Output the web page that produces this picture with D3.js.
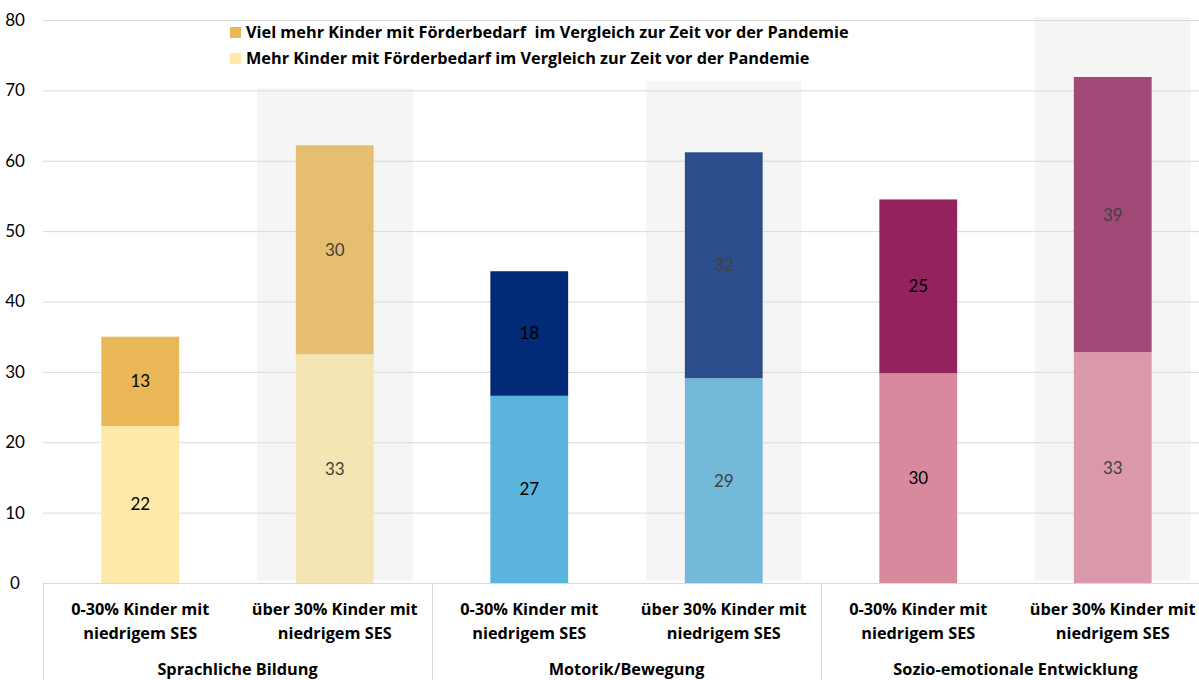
<!DOCTYPE html>
<html>
<head>
<meta charset="utf-8">
<script src="https://cdn.jsdelivr.net/npm/d3@7"></script>
<style>
  body { margin: 0; background: #fff; }
  svg { display: block; font-family: Lato, "Open Sans", sans-serif; }
  .bold { font-family: "Open Sans", Lato, sans-serif; font-weight: bold; }
</style>
</head>
<body>
<div id="chart"></div>
<script>
const groups = ["Sprachliche Bildung", "Motorik/Bewegung", "Sozio-emotionale Entwicklung"]
const subLabels = [["0-30% Kinder mit", "niedrigem SES"], ["über 30% Kinder mit", "niedrigem SES"]]
const mehr = [22.3, 32.5, 26.6, 29.1, 29.8, 32.8]
const vielMehr = [12.7, 29.7, 17.7, 32.1, 24.7, 39.1]
const mehrColors = ["#FEE9A8", "#F5E5B2", "#5BB4DB", "#72B9DA", "#D8899D", "#D999AA"]
const vielColors = ["#EAB758", "#E6BE70", "#022A76", "#2C4D8B", "#93225F", "#A24876"]
const shadeTop = [70.3, 71.3, 80.4]
const yTicks = [0, 10, 20, 30, 40, 50, 60, 70, 80]
const legendLabels = [
  "Viel mehr Kinder mit Förderbedarf  im Vergleich zur Zeit vor der Pandemie",
  "Mehr Kinder mit Förderbedarf im Vergleich zur Zeit vor der Pandemie"
]

const W = 1199, H = 680
const plot = { left: 43, right: 1210, top: 20, bottom: 583 }

const svg = d3.select("#chart").append("svg")
  .attr("width", W).attr("height", H)

const cats = d3.range(6)
const x = d3.scaleBand().domain(cats).range([plot.left, plot.right])
const y = d3.scaleLinear().domain([0, 80]).range([plot.bottom, plot.top])
const barW = x.bandwidth() * 0.4
const shadeW = x.bandwidth() * 0.8

// shading behind the "über 30%" bars
svg.append("g").selectAll("rect")
  .data(shadeTop)
  .join("rect")
  .attr("x", (d, i) => x(i * 2 + 1) + (x.bandwidth() - shadeW) / 2)
  .attr("y", d => y(d))
  .attr("width", shadeW)
  .attr("height", d => y(0.4) - y(d))
  .attr("fill", "#F5F5F5")

// gridlines + y axis labels
svg.append("g").selectAll("line")
  .data(yTicks.slice(1))
  .join("line")
  .attr("x1", plot.left).attr("x2", W)
  .attr("y1", d => y(d) + 0.5).attr("y2", d => y(d) + 0.5)
  .attr("stroke", "#D9D9D9").attr("stroke-width", 1)

svg.append("g").selectAll("text")
  .data(yTicks)
  .join("text")
  .attr("x", 15).attr("y", d => y(d))
  .attr("dy", "0.35em")
  .attr("text-anchor", "middle")
  .attr("font-size", 17)
  .attr("fill", "#000")
  .text(d => d)

// stacked bars
const bars = svg.append("g")
bars.selectAll("rect.mehr")
  .data(mehr)
  .join("rect")
  .attr("class", "mehr")
  .attr("x", (d, i) => x(i) + (x.bandwidth() - barW) / 2)
  .attr("y", d => y(d))
  .attr("width", barW)
  .attr("height", d => y(0) - y(d))
  .attr("fill", (d, i) => mehrColors[i])

bars.selectAll("rect.viel")
  .data(vielMehr)
  .join("rect")
  .attr("class", "viel")
  .attr("x", (d, i) => x(i) + (x.bandwidth() - barW) / 2)
  .attr("y", (d, i) => y(mehr[i] + d))
  .attr("width", barW)
  .attr("height", d => y(0) - y(d))
  .attr("fill", (d, i) => vielColors[i])

// value labels
const labelColor = i => i % 2 ? "#404040" : "#000"
bars.selectAll("text.mehr")
  .data(mehr)
  .join("text")
  .attr("class", "mehr")
  .attr("x", (d, i) => x(i) + x.bandwidth() / 2)
  .attr("y", d => y(d / 2))
  .attr("dy", "0.35em")
  .attr("text-anchor", "middle")
  .attr("font-size", 17)
  .attr("fill", (d, i) => labelColor(i))
  .text(d => Math.round(d))

bars.selectAll("text.viel")
  .data(vielMehr)
  .join("text")
  .attr("class", "viel")
  .attr("x", (d, i) => x(i) + x.bandwidth() / 2)
  .attr("y", (d, i) => y(mehr[i] + d / 2))
  .attr("dy", "0.35em")
  .attr("text-anchor", "middle")
  .attr("font-size", 17)
  .attr("fill", (d, i) => labelColor(i))
  .text(d => Math.round(d))

// x axis line and group separators
svg.append("line")
  .attr("x1", plot.left).attr("x2", W)
  .attr("y1", plot.bottom + 0.5).attr("y2", plot.bottom + 0.5)
  .attr("stroke", "#D9D9D9")

svg.append("g").selectAll("line")
  .data([0, 2, 4])
  .join("line")
  .attr("x1", d => Math.round(x(d)) + 0.5).attr("x2", d => Math.round(x(d)) + 0.5)
  .attr("y1", plot.bottom).attr("y2", H)
  .attr("stroke", "#D9D9D9")

// category labels
const catLabels = svg.append("g")
  .attr("class", "bold")
  .attr("font-size", 16.3).attr("text-anchor", "middle")
cats.forEach(i => {
  subLabels[i % 2].forEach((t, k) => {
    catLabels.append("text")
      .attr("x", x(i) + x.bandwidth() / 2)
      .attr("y", 609 + k * 24)
      .attr("dy", "0.35em")
      .text(t)
  })
})
catLabels.selectAll("text.group")
  .data(groups)
  .join("text")
  .attr("class", "group")
  .attr("x", (d, i) => x(i * 2 + 1))
  .attr("y", 669)
  .attr("dy", "0.35em")
  .text(d => d)

// legend
const legend = svg.append("g")
legendLabels.forEach((t, i) => {
  const ly = 32 + i * 26
  legend.append("rect")
    .attr("x", 230).attr("y", ly - 5)
    .attr("width", 11).attr("height", 11)
    .attr("fill", i === 0 ? vielColors[0] : mehrColors[0])
  legend.append("text")
    .attr("class", "bold")
    .attr("x", 246).attr("y", ly)
    .attr("dy", "0.35em")
    .attr("font-size", 16.3)
    .attr("xml:space", "preserve")
    .style("white-space", "pre")
    .text(t)
})
</script>
</body>
</html>
